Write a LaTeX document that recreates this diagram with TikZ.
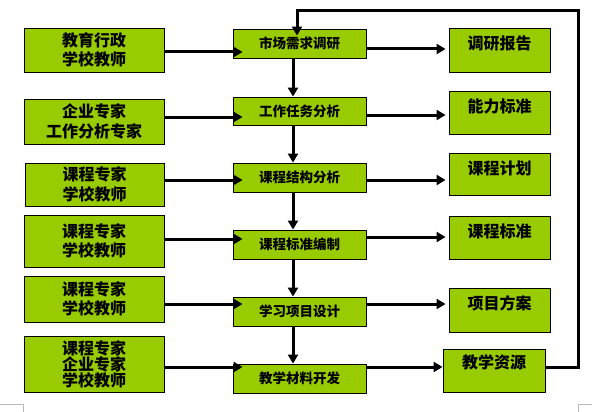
\documentclass[tikz,border=0pt]{standalone}
\usepackage{fontspec}
\newfontfamily\cjk{Noto Sans CJK SC}
\usetikzlibrary{arrows.meta,calc}
\definecolor{boxgreen}{HTML}{99CC00}
\tikzset{
  box/.style={draw=black, line width=0.9pt, fill=boxgreen, inner sep=0pt, align=center},
  lbox/.style={box, font=\cjk\bfseries\fontsize{16}{19.5}\selectfont},
  mbox/.style={box, font=\cjk\bfseries\fontsize{13.5}{16}\selectfont},
  rbox/.style={box, anchor=north, inner ysep=5pt, text height=16pt, font=\cjk\bfseries\fontsize{16}{19}\selectfont},
  arr/.style={line width=3pt, -{Triangle[length=9pt,width=10pt]}},
  mark/.style={}
}
\begin{document}
\begin{tikzpicture}[x=1pt,y=-1pt]
\useasboundingbox (0,0) rectangle (592,412);
% left boxes
\node[lbox, minimum width=140pt, minimum height=44pt] (L1) at (94,50) {教育行政\\学校教师};
\node[lbox, minimum width=140pt, minimum height=45pt] (L2) at (94,121.5) {企业专家\\工作分析专家};
\node[lbox, minimum width=139pt, minimum height=43pt] (L3) at (94.5,184.5) {课程专家\\学校教师};
\node[lbox, minimum width=140pt, minimum height=52pt] (L4) at (94,241) {课程专家\\学校教师};
\node[lbox, minimum width=140pt, minimum height=46pt] (L5) at (94,299) {课程专家\\学校教师};
\node[lbox, minimum width=140pt, minimum height=56pt, font=\cjk\bfseries\fontsize{16}{16}\selectfont] (L6) at (94,364) {课程专家\\企业专家\\学校教师};
% middle boxes
\node[mbox, minimum width=133pt, minimum height=29pt] (M1) at (299.5,43.5) {\raisebox{-4pt}{市场需求调研}};
\node[mbox, minimum width=133pt, minimum height=28pt] (M2) at (299.5,111) {工作任务分析};
\node[mbox, minimum width=133pt, minimum height=29pt] (M3) at (299.5,177.5) {课程结构分析};
\node[mbox, minimum width=133pt, minimum height=29pt] (M4) at (299.5,244.5) {课程标准编制};
\node[mbox, minimum width=133pt, minimum height=29pt] (M5) at (299.5,311.5) {学习项目设计};
\node[mbox, minimum width=133pt, minimum height=29pt] (M6) at (299.5,378.5) {教学材料开发};
% right boxes (text near top)
\node[rbox, minimum width=101pt, text depth=18pt] (R1) at (499.5,28) {调研报告};
\node[rbox, minimum width=101pt, text depth=17pt] (R2) at (499.5,91) {能力标准};
\node[rbox, minimum width=101pt, text depth=16pt] (R3) at (499.5,153) {课程计划};
\node[rbox, minimum width=101pt, text depth=17pt] (R4) at (499.5,216) {课程标准};
\node[rbox, minimum width=101pt, text depth=18pt] (R5) at (499.5,288) {项目方案};
\node[rbox, minimum width=102pt, inner ysep=3pt, text depth=21pt] (R6) at (494,349) {教学资源};
% helper coordinates
\coordinate (vx) at (293,0);
\coordinate (lx) at (297,11);
\coordinate (rx) at (578,11);
\foreach \a/\b in {1/52,2/117,3/180,4/239,5/304,6/367}{
  \coordinate (la\a) at (0,\b);
}
\foreach \a/\b in {1/49,2/115,3/180,4/237,5/304,6/367}{
  \coordinate (ra\a) at (0,\b);
}
% left -> middle
\foreach \i in {1,...,6}{
  \draw[arr] (L\i.east |- la\i) -- ($(M\i.west |- la\i)+(10,0)$);
}
% middle -> right
\foreach \i in {1,...,5}{
  \draw[arr, shorten >=3pt] (M\i.east |- ra\i) -- (R\i.west |- ra\i);
}
\draw[arr] (M6.east |- ra6) -- (R6.west |- ra6);
% middle vertical chain
\foreach \i/\j in {1/2,2/3,3/4,4/5,5/6}{
  \draw[arr] (M\i.south -| vx) -- (M\j.north -| vx);
}
% feedback loop
\draw[arr] (R6.east |- ra6) -- (ra6 -| rx) -- (rx) -- (lx) -- ($(M1.north -| lx)+(0,7)$);
% page corner marks
\draw[gray!55, line width=1pt] (0,404) -- (23,404) -- (23,412);
\draw[gray!55, line width=1pt] (592,404) -- (578,404) -- (578,412);
\end{tikzpicture}
\end{document}
